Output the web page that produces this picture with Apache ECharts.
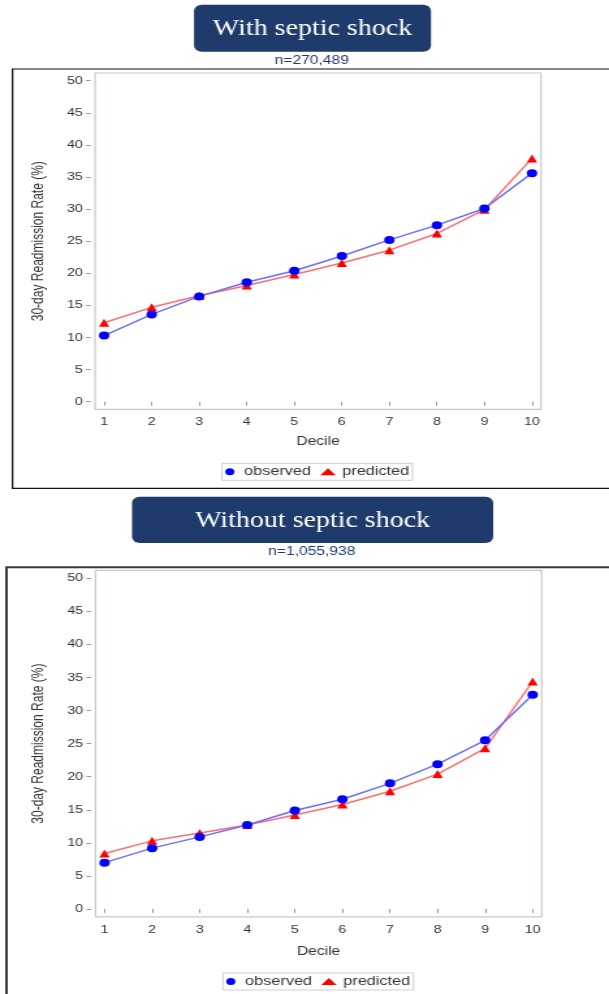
<!DOCTYPE html>
<html>
<head>
<meta charset="utf-8">
<script src="https://cdn.jsdelivr.net/npm/echarts@6/dist/echarts.min.js"></script>
<style>
html,body{margin:0;padding:0;background:#fff;}
#wrap{width:609px;height:994px;overflow:hidden;position:relative;}
#main{width:468px;height:994px;transform-origin:0 0;}
</style>
</head>
<body>
<div id="wrap"><div id="main"></div></div>
<script>
// ---- data ----
const deciles = [1, 2, 3, 4, 5, 6, 7, 8, 9, 10];
const yTicks = [0, 5, 10, 15, 20, 25, 30, 35, 40, 45, 50];
const observedShock  = [10.3, 13.6, 16.4, 18.6, 20.4, 22.7, 25.2, 27.5, 30.1, 35.6];
const predictedShock = [12.3, 14.7, 16.5, 18.1, 19.8, 21.6, 23.6, 26.2, 29.9, 37.9];
const observedNoShock  = [7.0, 9.2, 10.9, 12.7, 14.9, 16.6, 19.0, 21.9, 25.5, 32.4];
const predictedNoShock = [8.4, 10.3, 11.5, 12.7, 14.2, 15.8, 17.8, 20.4, 24.3, 34.4];
const titles = ['With septic shock', 'Without septic shock'];
const subtitles = ['n=270,489', 'n=1,055,938'];
const seriesNames = ['observed', 'predicted'];

// ---- layout (the reference image is horizontally stretched) ----
const S = 609 / 468;
document.getElementById('main').style.transform = 'scaleX(' + S + ')';
const cx = x => x / S;
const FONT = 'Liberation Sans';
const NAVY = '#1f3b6c';

const chart = echarts.init(document.getElementById('main'), null, {renderer: 'canvas'});

function pairs(vals) { return deciles.map((d, i) => [d, vals[i]]); }

const grids = [
  {left: cx(95.1), top: 73, width: cx(541) - cx(95.1), height: 336.4},
  {left: cx(95.5), top: 570.4, width: cx(541.7) - cx(95.5), height: 346.5}
];

function xAxisFor(gi, gap) {
  return {
    type: 'value', gridIndex: gi, min: 0.81, max: 10.19, offset: 1.5,
    name: 'Decile', nameLocation: 'middle', nameGap: gap,
    nameTextStyle: {fontFamily: FONT, fontSize: 12, color: '#333'},
    axisLine: {show: false},
    axisTick: {show: true, length: 4, customValues: deciles, lineStyle: {color: '#999', width: 1}},
    axisLabel: {customValues: deciles, fontFamily: FONT, fontSize: 11, color: '#333', margin: 6},
    splitLine: {show: false}
  };
}
function yAxisFor(gi) {
  return {
    type: 'value', gridIndex: gi, min: -1.2, max: 51.2, offset: 3.4,
    name: '30-day Readmission Rate (%)', nameLocation: 'middle', nameGap: 34,
    nameTextStyle: {fontFamily: FONT, fontSize: 12, color: '#333'},
    axisLine: {show: false},
    axisTick: {show: true, length: 3.6, customValues: yTicks, lineStyle: {color: '#999', width: 1}},
    axisLabel: {customValues: yTicks, fontFamily: FONT, fontSize: 11, color: '#333', margin: 6},
    splitLine: {show: false}
  };
}
function seriesFor(gi, obs, pred) {
  return [
    {name: seriesNames[0], type: 'line', xAxisIndex: gi, yAxisIndex: gi, data: pairs(obs),
     symbol: 'circle', symbolSize: 8, itemStyle: {color: '#0000ff'},
     lineStyle: {color: '#6e6eff', width: 1.5}, z: 3},
    {name: seriesNames[1], type: 'line', xAxisIndex: gi, yAxisIndex: gi, data: pairs(pred),
     symbol: 'triangle', symbolSize: 8, itemStyle: {color: '#ff0000'},
     lineStyle: {color: '#ff6e6e', width: 1.5}, z: 2}
  ];
}
function legendFor(left, top) {
  return {
    left: left, top: top, orient: 'horizontal',
    data: [{name: seriesNames[0], icon: 'circle'}, {name: seriesNames[1], icon: 'triangle'}],
    itemWidth: 12, itemHeight: 7, itemGap: 7, padding: [2, 2.5],
    borderColor: '#cfcfcf', borderWidth: 1,
    textStyle: {fontFamily: FONT, fontSize: 12.5, color: '#333'},
    selectedMode: false
  };
}
function titleBox(x0, x1, y0, y1, text) {
  return {
    type: 'group',
    children: [
      {type: 'rect', shape: {x: cx(x0), y: y0, width: cx(x1) - cx(x0), height: y1 - y0, r: 6},
       style: {fill: NAVY}},
      {type: 'text', x: cx((x0 + x1) / 2), y: (y0 + y1) / 2 + 1, scaleX: 1.165 / S,
       style: {text: text, fill: '#fff', font: '24px "Liberation Serif"', align: 'center', verticalAlign: 'middle'}}
    ]
  };
}
function subText(y, text) {
  return {type: 'text', x: cx(311.8), y: y,
    style: {text: text, fill: NAVY, font: '12px "Liberation Sans"', align: 'center', verticalAlign: 'middle'}};
}

const option = {
  animation: false,
  grid: grids.map(g => Object.assign({show: true, borderColor: '#c6caca', borderWidth: 1.2, backgroundColor: '#fff'}, g)),
  xAxis: [xAxisFor(0, 25), xAxisFor(1, 27)],
  yAxis: [yAxisFor(0), yAxisFor(1)],
  legend: [legendFor(cx(222), 463.3), legendFor(cx(223), 973)],
  series: seriesFor(0, observedShock, predictedShock).concat(seriesFor(1, observedNoShock, predictedNoShock)),
  graphic: [
    {type: 'rect', shape: {x: cx(12.5), y: 69, width: 600, height: 419.3},
     style: {fill: 'none', stroke: '#111', lineWidth: 1.2}, z: -10},
    {type: 'rect', shape: {x: cx(6.5), y: 567.3, width: 600, height: 500},
     style: {fill: 'none', stroke: '#3a3a3a', lineWidth: 2}, z: -10},
    titleBox(194, 431, 4.7, 51.7, titles[0]),
    subText(60.7, subtitles[0]),
    titleBox(132, 493.2, 496.7, 543, titles[1]),
    subText(552, subtitles[1])
  ]
};
chart.setOption(option);
</script>
</body>
</html>
